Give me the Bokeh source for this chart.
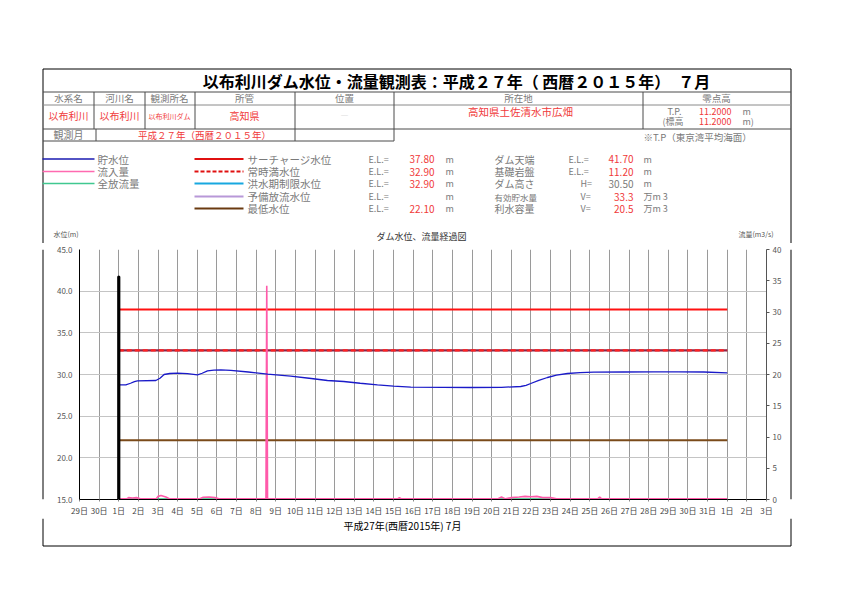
from bokeh.plotting import figure
from bokeh.models import Range1d, LinearAxis, FixedTicker
from bokeh.layouts import column, row
from bokeh.core.properties import value
from bokeh.embed import file_html
from bokeh.resources import INLINE

JP = "Noto Sans CJK JP"

# ---------------- data ----------------
# x = days since 29 Jun 00:00 (2 = 1 Jul, 33 = 1 Aug)
day_ticks = list(range(0, 36))
day_labels = ["29日", "30日", "1日", "2日", "3日", "4日", "5日", "6日", "7日", "8日", "9日",
              "10日", "11日", "12日", "13日", "14日", "15日", "16日", "17日", "18日", "19日",
              "20日", "21日", "22日", "23日", "24日", "25日", "26日", "27日", "28日", "29日",
              "30日", "31日", "1日", "2日", "3日"]
level_ticks = [15, 20, 25, 30, 35, 40, 45]
flow_ticks = [0, 5, 10, 15, 20, 25, 30, 35, 40]

month_span = [2, 33]  # 1 Jul .. 1 Aug

level_day = [2.0, 2.36, 2.6, 2.8, 2.95, 3.89, 4.1, 4.31, 4.6, 4.99, 5.5, 6.01, 6.25, 6.52,
             6.85, 7.2, 7.71, 8.6, 9.58, 10.76, 11.7, 12.63, 13.46, 14.3, 15.18, 16.0,
             16.88, 18.5, 19.93, 21.5, 22.48, 22.75, 22.99, 23.4, 23.84, 24.3, 24.86,
             25.5, 26.2, 27.7, 29.25, 30.5, 31.8, 33.0]
level_m = [28.76, 28.76, 28.95, 29.15, 29.24, 29.28, 29.55, 30.0, 30.12, 30.16, 30.1, 29.96,
           30.15, 30.44, 30.52, 30.56, 30.5, 30.3, 30.04, 29.8, 29.55, 29.28, 29.16, 28.95,
           28.76, 28.6, 28.48, 28.45, 28.44, 28.46, 28.56, 28.7, 28.92, 29.3, 29.64, 29.92,
           30.12, 30.22, 30.28, 30.3, 30.32, 30.31, 30.3, 30.2]

inflow_day = [2.0, 2.4, 2.5, 2.7, 2.9, 3.1, 3.9, 4.0, 4.15, 4.4, 4.6, 6.1, 6.3, 6.6, 6.9, 7.1,
              9.50, 9.54, 9.58, 16.2, 16.3, 16.4, 21.3, 21.5, 21.7, 22.0, 22.4, 22.7, 23.0,
              23.3, 23.6, 24.0, 24.3, 26.4, 26.5, 26.6, 33.0]
inflow_m3s = [0.1, 0.1, 0.3, 0.25, 0.3, 0.1, 0.1, 0.5, 0.65, 0.4, 0.1, 0.1, 0.35, 0.4, 0.3, 0.1,
              0.1, 34.2, 0.1, 0.1, 0.3, 0.1, 0.1, 0.4, 0.1, 0.3, 0.4, 0.5, 0.45, 0.5, 0.3, 0.3,
              0.1, 0.1, 0.4, 0.1, 0.1]

release_day = [2.0, 9.5, 16.0, 24.0, 33.0]
release_m3s = [0.05, 0.05, 0.05, 0.05, 0.05]

surcharge_el = 37.80
normal_full_el = 32.90
flood_limit_el = 32.90
minimum_el = 22.10
dam_crest_el = 41.70
foundation_el = 11.20
dam_height = 30.50
effective_storage = 33.3
water_use_storage = 20.5
dam_day = 2.0

RED = "#f03a3a"
GRAY = "#7a7a7a"
LINE = "#4a4a4a"


def blank(width, height, x0, x1, y0, y1):
    f = figure(width=width, height=height, output_backend="svg", toolbar_location=None, tools="",
               x_range=Range1d(x0, x1), y_range=Range1d(y1, y0), x_axis_type=None, y_axis_type=None,
               min_border=0, min_border_left=0, min_border_right=0, min_border_top=0,
               min_border_bottom=0)
    f.outline_line_color = None
    f.background_fill_color = "white"
    f.border_fill_color = "white"
    return f


def T(f, x, y, text, size=10, color=GRAY, align="left", bold=False):
    f.text(x=[x], y=[y], text=[text], text_font=value(JP), text_font_size=value(f"{size}px"),
           text_color=color, text_align=align, text_baseline="middle",
           text_font_style="bold" if bold else "normal")


def S(f, x0, y0, x1, y1, color=LINE, w=1, dash="solid"):
    f.segment(x0=[x0], y0=[y0], x1=[x1], y1=[y1], line_color=color, line_width=w, line_dash=dash)


# ---------------- header (page y 0..243) ----------------
HEAD_H = 243
hd = blank(842, HEAD_H, 0, 842, 0, HEAD_H)

S(hd, 42.5, 68.5, 790.5, 68.5, "black")
S(hd, 42.5, 68.5, 42.5, HEAD_H, "black")
S(hd, 790.5, 68.5, 790.5, HEAD_H, "black")

S(hd, 42.5, 91.5, 790.5, 91.5)
S(hd, 42.5, 104.5, 790.5, 104.5, "#8a8a8a")
S(hd, 42.5, 128.5, 790.5, 128.5)
S(hd, 42.5, 140.5, 393.5, 140.5)
for xv in [93.5, 144.5, 194.5, 294.5, 393.5, 642.5]:
    S(hd, xv, 91.5, xv, 128.5)
for xv in [95.5, 294.5, 393.5]:
    S(hd, xv, 128.5, xv, 140.5)

T(hd, 456, 80, "以布利川ダム水位・流量観測表：平成２７年（ 西暦２０１５年）　７月", 16, "black", "center", True)

header_titles = ["水系名", "河川名", "観測所名", "所管", "位置", "所在地", "零点高"]
header_x = [68, 119, 169, 244, 344, 518, 716]
for hx, ht in zip(header_x, header_titles):
    T(hd, hx, 97.5, ht, 9.5, GRAY, "center")

T(hd, 68, 115, "以布利川", 10, RED, "center")
T(hd, 119, 115, "以布利川", 10, RED, "center")
T(hd, 169, 115, "以布利川ダム", 7, RED, "center")
T(hd, 244, 115, "高知県", 10, RED, "center")
T(hd, 344, 115, "―", 8, "#c8c8c8", "center")
T(hd, 520, 111, "高知県土佐清水市広畑", 10.5, RED, "center")

T(hd, 667, 111, "T.P.", 9, GRAY)
T(hd, 731, 111, "11.2000", 9, RED, "right")
T(hd, 742, 111, "m", 9, GRAY)
T(hd, 662, 121, "(標高", 9, GRAY)
T(hd, 731, 121, "11.2000", 9, RED, "right")
T(hd, 742, 121, "m)", 9, GRAY)
T(hd, 643, 136, "※T.P（東京湾平均海面）", 9.5, GRAY)

T(hd, 68, 134, "観測月", 10, GRAY, "center")
T(hd, 204, 134, "平成２７年（西暦２０１５年）", 9.5, RED, "center")

legend_rows = [158.5, 171, 183, 196, 208]
S(hd, 42, legend_rows[0], 94, legend_rows[0], "#1a1ab0", 1.5)
T(hd, 97, legend_rows[0], "貯水位", 10.5, GRAY)
S(hd, 42, legend_rows[1], 94, legend_rows[1], "#ff6ab0", 1.5)
T(hd, 97, legend_rows[1], "流入量", 10.5, GRAY)
S(hd, 42, legend_rows[2], 94, legend_rows[2], "#40c890", 1.5)
T(hd, 97, legend_rows[2], "全放流量", 10.5, GRAY)

mid_colors = ["#e01010", "#e01010", "#18a8e0", "#b898d8", "#6a3a10"]
mid_dash = ["solid", "4 2", "solid", "solid", "solid"]
mid_names = ["サーチャージ水位", "常時満水位", "洪水期制限水位", "予備放流水位", "最低水位"]
mid_vals = [f"{surcharge_el:.2f}", f"{normal_full_el:.2f}", f"{flood_limit_el:.2f}", "", f"{minimum_el:.2f}"]
for yv, c, d, n, v in zip(legend_rows, mid_colors, mid_dash, mid_names, mid_vals):
    S(hd, 194, yv, 243, yv, c, 2, d)
    T(hd, 247, yv, n, 10.5, GRAY)
    T(hd, 368, yv, "E.L.=", 9, GRAY)
    T(hd, 434, yv, v, 10, RED, "right")
    T(hd, 445, yv, "m", 9, GRAY)

right_names = ["ダム天端", "基礎岩盤", "ダム高さ", "有効貯水量", "利水容量"]
right_sizes = [10, 10, 10, 8.5, 10]
right_eq = ["E.L.=", "E.L.=", "H=", "V=", "V="]
right_eq_x = [568, 568, 580, 580, 580]
right_vals = [f"{dam_crest_el:.2f}", f"{foundation_el:.2f}", f"{dam_height:.2f}",
              f"{effective_storage:.1f}", f"{water_use_storage:.1f}"]
right_val_col = [RED, RED, GRAY, RED, RED]
right_units = ["m", "m", "m", "万m 3", "万m 3"]
for yv, n, sz, e, ex, v, vc, u in zip(legend_rows, right_names, right_sizes, right_eq, right_eq_x,
                                      right_vals, right_val_col, right_units):
    T(hd, 494, yv, n, sz, GRAY)
    T(hd, ex, yv, e, 9, GRAY)
    T(hd, 633, yv, v, 10, vc, "right")
    T(hd, 643, yv, u, 9, GRAY)

T(hd, 421, 236, "ダム水位、流量経過図", 9, "#333333", "center")
T(hd, 53, 233, "水位(m)", 7, "#555555")
T(hd, 738, 233, "流量(m3/s)", 7, "#555555")

# ---------------- chart (page x 50..785, y 243..518) ----------------
CH_X0, CH_X1, CH_Y1 = 50, 785, 518
p = figure(width=CH_X1 - CH_X0, height=CH_Y1 - HEAD_H, output_backend="svg", toolbar_location=None,
           tools="", x_range=Range1d(0, 35), y_range=Range1d(15, 45),
           min_border_left=79 - CH_X0, min_border_right=CH_X1 - 766,
           min_border_top=249 - HEAD_H, min_border_bottom=CH_Y1 - 499)
p.background_fill_color = "white"
p.border_fill_color = "white"
p.outline_line_color = None
p.extra_y_ranges = {"flow": Range1d(0, 40)}

p.xaxis.ticker = FixedTicker(ticks=day_ticks)
p.xaxis.major_label_overrides = {t: l for t, l in zip(day_ticks, day_labels)}
p.xaxis.major_tick_out = 2
p.xaxis.major_tick_in = 0
p.xaxis.minor_tick_line_color = None
p.xaxis.axis_line_color = "black"
p.xaxis.major_tick_line_color = "#888888"
p.xaxis.major_label_standoff = 3
p.xaxis.major_label_text_font = JP
p.xaxis.major_label_text_font_size = "8px"
p.xaxis.major_label_text_color = "#444444"

p.yaxis.ticker = FixedTicker(ticks=level_ticks)
p.yaxis.major_label_overrides = {t: f"{t:.1f}" for t in level_ticks}
p.yaxis.major_tick_out = 0
p.yaxis.major_tick_in = 0
p.yaxis.minor_tick_line_color = None
p.yaxis.axis_line_color = "black"
p.yaxis.major_label_standoff = 7
p.yaxis.major_label_text_font = JP
p.yaxis.major_label_text_font_size = "8px"
p.yaxis.major_label_text_color = "#555555"

ra = LinearAxis(y_range_name="flow", ticker=FixedTicker(ticks=flow_ticks))
ra.major_tick_out = 3
ra.major_tick_in = 0
ra.minor_tick_line_color = None
ra.axis_line_color = "#555555"
ra.major_tick_line_color = "#555555"
ra.major_label_standoff = 3
ra.major_label_text_font = JP
ra.major_label_text_font_size = "8px"
ra.major_label_text_color = "#555555"
p.add_layout(ra, "right")

p.xgrid.ticker = FixedTicker(ticks=day_ticks)
p.xgrid.grid_line_color = "#9a9a9a"
p.ygrid.ticker = FixedTicker(ticks=level_ticks)
p.ygrid.grid_line_color = "#c4c4c4"

p.line(month_span, [surcharge_el] * 2, line_color="#ff1010", line_width=2.2)
p.line(month_span, [flood_limit_el] * 2, line_color="#8a2448", line_width=2.2)
p.line(month_span, [normal_full_el] * 2, line_color="#ff2020", line_width=2.2, line_dash="5 3")
p.line(month_span, [minimum_el] * 2, line_color="#7a4a1a", line_width=2)

p.line(release_day, release_m3s, y_range_name="flow", line_color="#33c080", line_width=2)
p.line(inflow_day, inflow_m3s, y_range_name="flow", line_color="#ff5aaa", line_width=1.6)
p.line(level_day, level_m, line_color="#1a1ac8", line_width=1.3)
p.line([dam_day, dam_day], [15, dam_crest_el], line_color="black", line_width=3.2, line_cap="round")

# ---------------- side strips ----------------
lf = blank(CH_X0, CH_Y1 - HEAD_H, 0, CH_X0, HEAD_H, CH_Y1)
S(lf, 42.5, HEAD_H, 42.5, CH_Y1, "black")
rf = blank(842 - CH_X1, CH_Y1 - HEAD_H, CH_X1, 842, HEAD_H, CH_Y1)
S(rf, 790.5, HEAD_H, 790.5, CH_Y1, "black")

# ---------------- footer (page y 518..595) ----------------
ft = blank(842, 595 - CH_Y1, 0, 842, CH_Y1, 595)
S(ft, 42.5, CH_Y1, 42.5, 545.5, "black")
S(ft, 790.5, CH_Y1, 790.5, 545.5, "black")
S(ft, 42.5, 545.5, 790.5, 545.5, "black")
T(ft, 402, 525, "平成27年(西暦2015年) 7月", 10, "black", "center")

layout = column(hd, row(lf, p, rf), ft)
open("out.html", "w").write(file_html(layout, INLINE))
